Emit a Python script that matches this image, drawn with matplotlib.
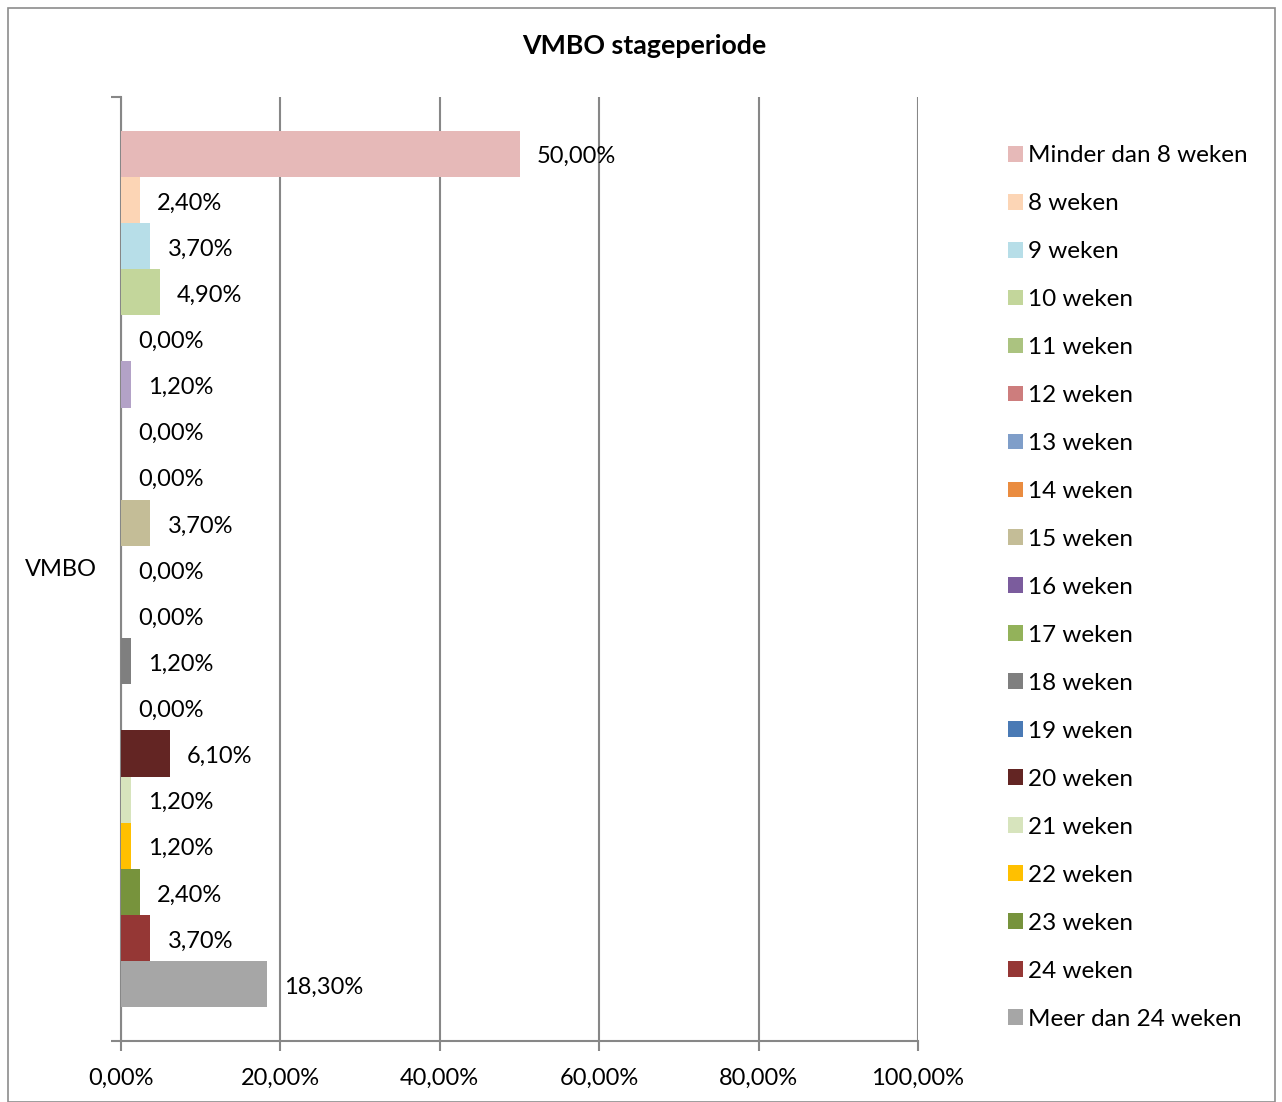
import matplotlib
matplotlib.use("Agg")
import matplotlib.pyplot as plt
from matplotlib.patches import Patch, Rectangle

plt.rcParams['font.family'] = ['Lato', 'DejaVu Sans']

# data
series = ["Minder dan 8 weken", "8 weken", "9 weken", "10 weken", "11 weken",
          "12 weken", "13 weken", "14 weken", "15 weken", "16 weken",
          "17 weken", "18 weken", "19 weken", "20 weken", "21 weken",
          "22 weken", "23 weken", "24 weken", "Meer dan 24 weken"]
values = [50.0, 2.4, 3.7, 4.9, 0.0, 1.2, 0.0, 0.0, 3.7, 0.0,
          0.0, 1.2, 0.0, 6.1, 1.2, 1.2, 2.4, 3.7, 18.3]
legend_colors = ["#e6b9b8", "#fcd5b5", "#b7dee8", "#c3d69b", "#abc380",
                 "#cd7d7d", "#7f9ec9", "#ea8c40", "#c4bd97", "#7b5c9d",
                 "#93b25a", "#7f7f7f", "#4a7ab5", "#632523", "#d7e4bd",
                 "#ffc000", "#77933c", "#953735", "#a6a6a6"]
bar_colors = list(legend_colors)
bar_colors[5] = "#b3a2c7"   # bar is drawn lavender in the original
xticks = [0, 20, 40, 60, 80, 100]
category = "VMBO"

W, H = 1282, 1102
fig = plt.figure(figsize=(W / 100, H / 100), dpi=100)
fig.patches.append(Rectangle((8 / W, 0), (1275 - 8) / W, 1 - 8 / H,
                             transform=fig.transFigure, fill=False,
                             edgecolor="#8c8c8c", linewidth=1.2))

ax = fig.add_axes([121 / W, 1 - 1041 / H, (918 - 121) / W, (1041 - 97) / H])
n = len(values)
pos = list(range(n))
ax.barh(pos, values, height=1.0, color=bar_colors, zorder=3)

pad = 0.73
ax.set_ylim(n - 0.5 + pad, -0.5 - pad)
ax.set_xlim(0, 100)

for p, v in zip(pos, values):
    ax.annotate(f"{v:.2f}%".replace(".", ","), (v, p), xytext=(17, -3),
                textcoords="offset pixels", va="center", ha="left",
                fontsize=17, color="black")

gcol = "#878787"
ax.set_xticks(xticks)
ax.set_xticklabels([f"{t:.2f}%".replace(".", ",") for t in xticks], fontsize=17)
ax.xaxis.grid(True, color=gcol, linewidth=1.5, zorder=0)
ax.set_yticks([n - 0.5 + pad, -0.5 - pad])
ax.set_yticklabels([])
ax.tick_params(axis="both", direction="out", length=7, width=1.5, color=gcol)
ax.tick_params(axis="x", pad=12)
for s in ["top", "right"]:
    ax.spines[s].set_visible(False)
for s in ["left", "bottom"]:
    ax.spines[s].set_color(gcol)
    ax.spines[s].set_linewidth(1.5)

fig.text(61 / W, 1 - 570 / H, category, ha="center", va="center", fontsize=17)
fig.text(644 / W, 1 - 46 / H, "VMBO stageperiode", ha="center", va="center",
         fontsize=19.3, fontweight="bold")

handles = [Patch(facecolor=c, edgecolor="none") for c in legend_colors]
fig.legend(handles, series, loc="upper left",
           bbox_to_anchor=(996 / W, 1 - 133 / H), frameon=False,
           fontsize=17.5, handlelength=0.63, handleheight=0.63,
           handletextpad=0.2, labelspacing=1.11, borderpad=0)

fig.savefig("out.png", dpi=100)
